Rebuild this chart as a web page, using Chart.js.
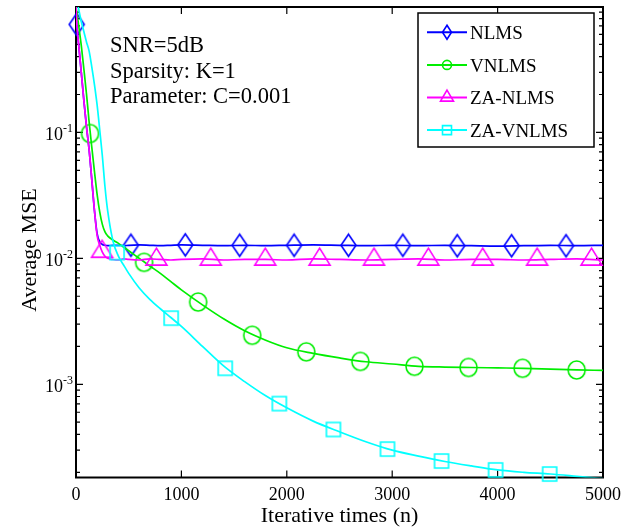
<!DOCTYPE html>
<html>
<head>
<meta charset="utf-8">
<script src="https://cdn.jsdelivr.net/npm/chart.js@4.4.1/dist/chart.umd.min.js"></script>
<style>
    html, body { margin: 0; padding: 0; background: #ffffff; }
    #wrap { width: 644px; height: 529px; }
</style>
</head>
<body>
<div id="wrap"><canvas id="mseChart" width="644" height="529"></canvas></div>
<script>
// iteration grid shared by the four curves
const iters = [0, 10, 25, 50, 75, 100, 125, 150, 175, 200, 225, 250, 275, 300, 350, 400, 450, 500,
    600, 700, 800, 900, 1000, 1200, 1400, 1600, 1800, 2000, 2250, 2500, 2750, 3000, 3250, 3500,
    3750, 4000, 4250, 4500, 4750, 5000];

const nlmsMse = [1.0, 0.68, 0.50, 0.30, 0.178, 0.110, 0.072, 0.042, 0.024, 0.0158, 0.0135, 0.0129, 0.0127, 0.0126, 0.0127, 0.0127, 0.0126, 0.0127,
    0.0128, 0.0127, 0.0126, 0.0127, 0.0128, 0.0127, 0.0126, 0.0127, 0.0126, 0.0127, 0.0128, 0.0127, 0.0126, 0.0127, 0.0126, 0.0127,
    0.0126, 0.0125, 0.0126, 0.0127, 0.0126, 0.0127];

const vnlmsMse = [1.0, 0.87, 0.71, 0.49, 0.316, 0.20, 0.120, 0.076, 0.049, 0.0324, 0.0234, 0.0186, 0.0162, 0.0151, 0.0140, 0.0132, 0.0123, 0.0115,
    0.0100, 0.0087, 0.0076, 0.00653, 0.00562, 0.00427, 0.00331, 0.00266, 0.00224, 0.00195, 0.00176, 0.00162, 0.00151, 0.00145, 0.00139, 0.00137,
    0.00136, 0.00135, 0.00134, 0.00132, 0.00130, 0.00129];

const zaNlmsMse = [1.0, 0.68, 0.50, 0.30, 0.178, 0.110, 0.072, 0.042, 0.024, 0.0152, 0.0127, 0.0112, 0.0104, 0.0100, 0.0098, 0.0097, 0.0099, 0.0098,
    0.0097, 0.0099, 0.0098, 0.0097, 0.0098, 0.0099, 0.0097, 0.0098, 0.0098, 0.0097, 0.0099, 0.0098, 0.0097, 0.0098, 0.0099, 0.0097,
    0.0098, 0.0098, 0.0097, 0.0098, 0.0099, 0.0097];

const zaVnlmsMse = [1.26, 1.12, 0.955, 0.76, 0.63, 0.52, 0.44, 0.33, 0.24, 0.166, 0.105, 0.065, 0.037, 0.024, 0.0138, 0.0105, 0.0089, 0.0076,
    0.00582, 0.00473, 0.00398, 0.00339, 0.00288, 0.0020, 0.0014, 0.00105, 0.00081, 0.00065, 0.00051, 0.00042, 0.00035, 0.00030, 0.000269, 0.000244,
    0.000225, 0.000209, 0.000200, 0.000194, 0.000186, 0.000178];

// marker positions (every ~515 iterations, as in the figure)
const nlmsMarkIter = [7, 521, 1037, 1553, 2069, 2585, 3101, 3617, 4133, 4649];
const nlmsMarkMse = [0.72, 0.0127, 0.0128, 0.0127, 0.0127, 0.0127, 0.0127, 0.0126, 0.0126, 0.0126];
const vnlmsMarkIter = [133, 646, 1159, 1672, 2185, 2698, 3211, 3724, 4237, 4750];
const vnlmsMarkMse = [0.098, 0.0093, 0.0045, 0.00245, 0.00181, 0.00152, 0.00139, 0.00136, 0.00134, 0.00130];
const zaNlmsMarkIter = [247, 763, 1279, 1795, 2311, 2827, 3343, 3859, 4375, 4891];
const zaNlmsMarkMse = [0.0113, 0.0098, 0.0098, 0.0098, 0.0098, 0.0098, 0.0098, 0.0098, 0.0098, 0.0098];
const zaVnlmsMarkIter = [390, 903, 1416, 1929, 2442, 2955, 3468, 3981, 4494];
const zaVnlmsMarkMse = [0.0111, 0.00335, 0.00134, 0.000703, 0.000438, 0.000306, 0.000246, 0.000209, 0.000194];

const xTicks = [0, 1000, 2000, 3000, 4000, 5000];
const yDecades = [-3, -2, -1];
const noteLines = ['SNR=5dB', 'Sparsity: K=1', 'Parameter: C=0.001'];

const SERIES = [
    { label: 'NLMS', color: '#0000ff', shape: 'diamond', w: 15, h: 22, lw: 9, lh: 14, mse: nlmsMse, mx: nlmsMarkIter, my: nlmsMarkMse },
    { label: 'VNLMS', color: '#00ee00', shape: 'circle', w: 17, h: 18, lw: 9, lh: 9, mse: vnlmsMse, mx: vnlmsMarkIter, my: vnlmsMarkMse },
    { label: 'ZA-NLMS', color: '#ff00ff', shape: 'triangle', w: 21, h: 17, lw: 13, lh: 11, mse: zaNlmsMse, mx: zaNlmsMarkIter, my: zaNlmsMarkMse },
    { label: 'ZA-VNLMS', color: '#00ffff', shape: 'square', w: 14, h: 14, lw: 9, lh: 9, mse: zaVnlmsMse, mx: zaVnlmsMarkIter, my: zaVnlmsMarkMse }
];

const SERIF = '"Liberation Serif", "Times New Roman", serif';

function traceShape(ctx, shape, cx, cy, w, h) {
    ctx.beginPath();
    if (shape === 'diamond') {
        ctx.moveTo(cx, cy - h / 2);
        ctx.lineTo(cx + w / 2, cy);
        ctx.lineTo(cx, cy + h / 2);
        ctx.lineTo(cx - w / 2, cy);
        ctx.closePath();
    } else if (shape === 'circle') {
        ctx.ellipse(cx, cy, w / 2, h / 2, 0, 0, Math.PI * 2);
    } else if (shape === 'triangle') {
        // cy is the centroid
        ctx.moveTo(cx, cy - 2 * h / 3);
        ctx.lineTo(cx + w / 2, cy + h / 3);
        ctx.lineTo(cx - w / 2, cy + h / 3);
        ctx.closePath();
    } else {
        ctx.rect(cx - w / 2, cy - h / 2, w, h);
    }
}

function markerImage(s) {
    const c = document.createElement('canvas');
    const pad = 2;
    c.width = Math.round(s.w + pad * 2);
    c.height = Math.round((s.shape === 'triangle' ? 4 * s.h / 3 : s.h) + pad * 2);
    const g = c.getContext('2d');
    g.strokeStyle = s.color;
    g.lineWidth = 1.6;
    traceShape(g, s.shape, c.width / 2, c.height / 2, s.w, s.h);
    g.stroke();
    return c;
}

const datasets = [];
SERIES.forEach((s, i) => {
    datasets.push({
        label: s.label,
        data: iters.map((n, k) => ({ x: n, y: s.mse[k] })),
        showLine: true,
        borderColor: s.color,
        borderWidth: 1.7,
        pointRadius: 0,
        cubicInterpolationMode: 'monotone',
        fill: false,
        order: 8 - i * 2
    });
    datasets.push({
        label: s.label + ' markers',
        data: s.mx.map((n, k) => ({ x: n, y: s.my[k] })),
        showLine: false,
        pointStyle: markerImage(s),
        pointRadius: 6,
        clip: false,
        order: 7 - i * 2
    });
});

const frameAndText = {
    id: 'frameAndText',
    beforeDatasetsDraw(chart) {
        const { ctx, chartArea: a, scales } = chart;
        const xs = scales.x, ys = scales.y;
        ctx.save();
        ctx.strokeStyle = '#000';
        ctx.lineWidth = 2;
        ctx.strokeRect(a.left, a.top, a.right - a.left, a.bottom - a.top);
        ctx.lineWidth = 1.2;
        ctx.beginPath();
        xTicks.slice(1, -1).forEach(v => {
            const px = xs.getPixelForValue(v);
            ctx.moveTo(px, a.bottom); ctx.lineTo(px, a.bottom - 7);
            ctx.moveTo(px, a.top); ctx.lineTo(px, a.top + 7);
        });
        for (let k = -4; k <= 0; k++) {
            for (let m = 1; m <= 9; m++) {
                const v = m * Math.pow(10, k);
                if (v < ys.min || v > ys.max) continue;
                const py = ys.getPixelForValue(v);
                const len = m === 1 ? 7 : 4;
                ctx.moveTo(a.left, py); ctx.lineTo(a.left + len, py);
                ctx.moveTo(a.right, py); ctx.lineTo(a.right - len, py);
            }
        }
        ctx.stroke();
        ctx.restore();
    },
    afterDraw(chart) {
        const { ctx, chartArea: a, scales } = chart;
        const xs = scales.x, ys = scales.y;
        ctx.save();
        ctx.fillStyle = '#000';

        // x tick labels
        ctx.font = '18px ' + SERIF;
        ctx.textAlign = 'center';
        ctx.textBaseline = 'alphabetic';
        xTicks.forEach(v => ctx.fillText(String(v), xs.getPixelForValue(v), 500));

        // y tick labels 10^k
        yDecades.forEach(k => {
            const py = ys.getPixelForValue(Math.pow(10, k));
            const sup = String(k);
            ctx.font = '12px ' + SERIF;
            const supW = ctx.measureText(sup).width;
            ctx.textAlign = 'right';
            ctx.fillText(sup, 73, py - 0.5);
            ctx.font = '18px ' + SERIF;
            ctx.fillText('10', 73 - supW, py + 7.5);
        });

        // axis titles
        ctx.font = '22px ' + SERIF;
        ctx.textAlign = 'center';
        ctx.fillText('Iterative times (n)', (a.left + a.right) / 2, 522);
        ctx.save();
        ctx.translate(36, 250);
        ctx.rotate(-Math.PI / 2);
        ctx.fillText('Average MSE', 0, 0);
        ctx.restore();

        // notes inside the axes
        ctx.font = '22.5px ' + SERIF;
        ctx.textAlign = 'left';
        noteLines.forEach((t, i) => ctx.fillText(t, 110, 52 + i * 25.5));

        // legend
        const box = { x: 418, y: 13, w: 176, h: 134 };
        ctx.fillStyle = '#fff';
        ctx.fillRect(box.x, box.y, box.w, box.h);
        ctx.strokeStyle = '#000';
        ctx.lineWidth = 1.5;
        ctx.strokeRect(box.x, box.y, box.w, box.h);
        ctx.font = '19px ' + SERIF;
        SERIES.forEach((s, i) => {
            const cy = 32.3 + i * 32.6;
            ctx.strokeStyle = s.color;
            ctx.lineWidth = 2;
            ctx.beginPath();
            ctx.moveTo(427, cy); ctx.lineTo(467, cy);
            ctx.stroke();
            ctx.lineWidth = 1.6;
            traceShape(ctx, s.shape, 447, cy, s.lw, s.lh);
            ctx.stroke();
            ctx.fillStyle = '#000';
            ctx.fillText(s.label, 470, cy + 6.8);
        });
        ctx.restore();
    }
};

new Chart(document.getElementById('mseChart'), {
    type: 'scatter',
    data: { datasets },
    options: {
        responsive: false,
        animation: false,
        events: [],
        layout: { padding: { left: 0, right: 41, top: 4.5, bottom: 0 } },
        plugins: {
            legend: { display: false },
            tooltip: { enabled: false }
        },
        scales: {
            x: {
                type: 'linear',
                min: 0,
                max: 5000,
                ticks: { display: false },
                grid: { display: false },
                border: { display: false },
                afterFit: scale => { scale.height = 51.5; }
            },
            y: {
                type: 'logarithmic',
                min: 1.82e-4,
                max: 0.99,
                ticks: { display: false },
                grid: { display: false },
                border: { display: false },
                afterFit: scale => { scale.width = 76; }
            }
        }
    },
    plugins: [frameAndText]
});
</script>
</body>
</html>
